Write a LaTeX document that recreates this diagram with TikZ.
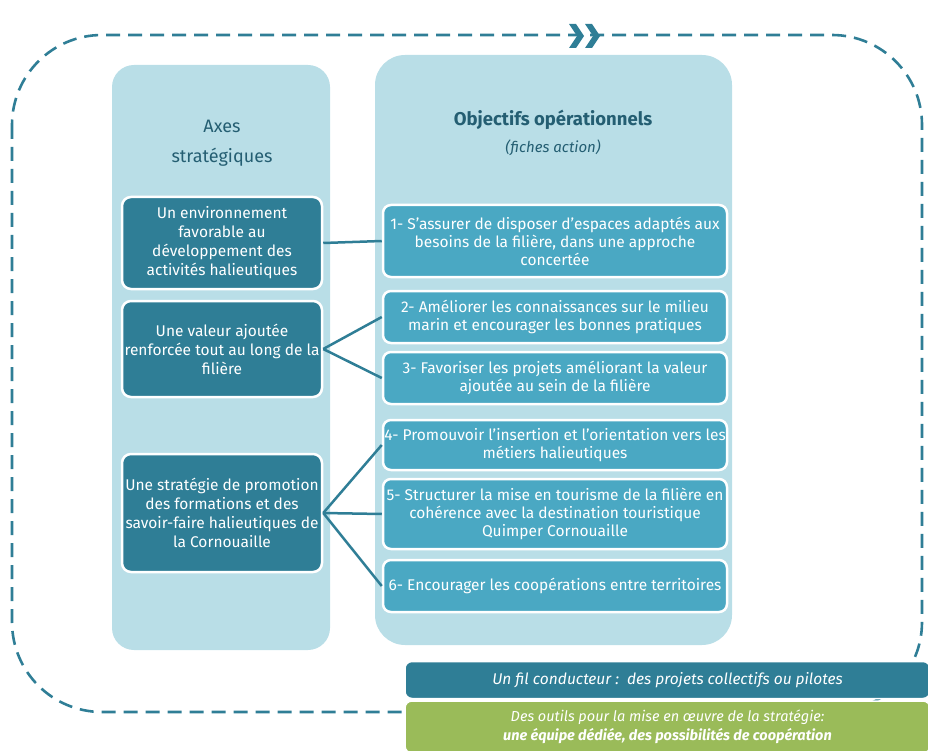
\documentclass[tikz,border=0pt]{standalone}
\usepackage{fontspec}
\setmainfont{Fira Sans}
\usetikzlibrary{positioning}

\definecolor{panneaucol}{HTML}{B9DEE7}
\definecolor{axecol}{HTML}{2F7E96}
\definecolor{objcol}{HTML}{4AA8C3}
\definecolor{titrecol}{HTML}{245E72}
\definecolor{vertcol}{HTML}{9ABB59}

\tikzset{
  panneau/.style={fill=panneaucol,draw=none},
  axe/.style={draw=white,line width=2.5pt,fill=axecol,rounded corners=9pt,text=white,
    minimum width=200pt,inner sep=1pt,align=center,font=\fontsize{15.5}{19}\selectfont},
  objectif/.style={draw=white,line width=2.5pt,fill=objcol,rounded corners=8pt,text=white,
    minimum width=344pt,inner sep=1pt,align=center,font=\fontsize{15.5}{18}\selectfont},
  titre/.style={text=titrecol,align=center,font=\fontsize{18}{30}\selectfont},
  lien/.style={draw=axecol,line width=2.5pt},
  bord/.style={draw=axecol,line width=2.6pt,dash pattern=on 14pt off 8pt,rounded corners=90pt},
  bande/.style={draw=white,line width=1.5pt,rounded corners=7pt,text=white,minimum width=525pt,
    align=center,font=\fontsize{15.5}{19}\selectfont\itshape}
}

\begin{document}
\begin{tikzpicture}[x=1pt,y=-1pt]
\clip (0,0) rectangle (928,751);

% cadre en pointilles
\draw[bord] (12,35) rectangle (922,712);
\foreach \x in {569,585}
  \fill[axecol] (\x,24) -- ++(7,0) -- ++(8,12) -- ++(-8,12) -- ++(-7,0) -- ++(8,-12) -- cycle;

% panneaux
\node[panneau,rounded corners=22pt,minimum width=218pt,minimum height=585pt] (axes) at (221,357.5) {};
\node[panneau,rounded corners=30pt,minimum width=357pt,minimum height=590pt] (objs) at (553.5,350) {};

\node[titre] (tAxes) at (222,143) {Axes\\stratégiques};
\node[titre,font=\fontsize{18.5}{20}\selectfont\bfseries] (tObj) at (553,120) {Objectifs opérationnels};
\node[text=titrecol,font=\fontsize{15}{18}\selectfont\itshape] (tFiches) at (553,148) {(fiches action)};

% axes strategiques
\node[axe,minimum height=92pt] (a1) at (222,243) {Un environnement\\favorable au\\développement des\\activités halieutiques};
\node[axe,minimum height=96pt] (a2) at (222,349) {Une valeur ajoutée\\renforcée tout au long de la\\filière};
\node[axe,minimum height=118pt] (a3) at (222,513) {Une stratégie de promotion\\des formations et des\\savoir-faire halieutiques de\\la Cornouaille};

% objectifs
\node[objectif,minimum height=72pt] (o1) at (555,241) {1- S’assurer de disposer d’espaces adaptés aux\\besoins de la filière, dans une approche\\concertée};
\node[objectif,minimum height=52pt] (o2) at (555,317) {2- Améliorer les connaissances sur le milieu\\marin et encourager les bonnes pratiques};
\node[objectif,minimum height=52pt] (o3) at (555,378) {3- Favoriser les projets améliorant la valeur\\ajoutée au sein de la filière};
\node[objectif,minimum height=50pt] (o4) at (555,445) {4- Promouvoir l’insertion et l’orientation vers les\\métiers halieutiques};
\node[objectif,minimum height=70pt] (o5) at (555,514) {5- Structurer la mise en tourisme de la filière en\\cohérence avec la destination touristique\\Quimper Cornouaille};
\node[objectif,minimum height=52pt] (o6) at (555,586) {6- Encourager les coopérations entre territoires};

\draw[lien] (a1.east) -- (o1.west);
\draw[lien] (a2.east) -- (o2.west);
\draw[lien] (a2.east) -- (o3.west);
\draw[lien] (a3.east) -- (o4.west);
\draw[lien] (a3.east) -- (o5.west);
\draw[lien] (a3.east) -- (o6.west);

% bandeaux du bas
\node[bande,fill=axecol,minimum height=37pt] (fil) at (667.5,680) {Un fil conducteur :\ \ des projets collectifs ou pilotes};
\node[bande,fill=vertcol,minimum height=52pt,font=\fontsize{14.5}{19}\selectfont\itshape] (outils) at (667.5,727) {Des outils pour la mise en œuvre de la stratégie:\\\bfseries une équipe dédiée, des possibilités de coopération};
\end{tikzpicture}
\end{document}
